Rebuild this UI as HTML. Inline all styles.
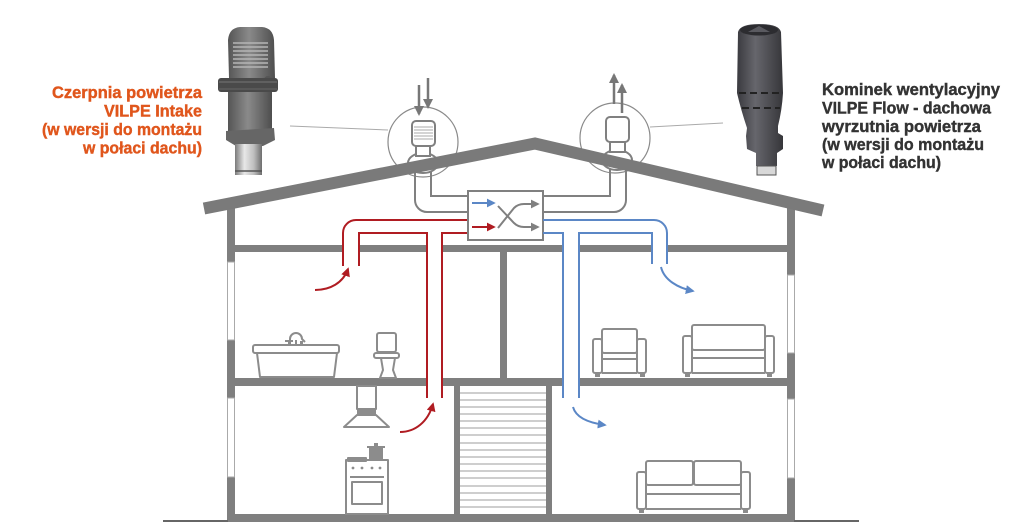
<!DOCTYPE html>
<html><head><meta charset="utf-8"><style>
html,body{margin:0;padding:0;background:#fff;}
svg{display:block;}
</style></head><body>
<svg width="1024" height="531" viewBox="0 0 1024 531" xmlns="http://www.w3.org/2000/svg">
<defs>
<marker id="ar" viewBox="0 0 10 10" refX="8" refY="5" markerWidth="9" markerHeight="9" markerUnits="userSpaceOnUse" orient="auto"><path d="M0,0 L10,5 L0,10 z" fill="#b01c22"/></marker>
<marker id="ab" viewBox="0 0 10 10" refX="8" refY="5" markerWidth="9" markerHeight="9" markerUnits="userSpaceOnUse" orient="auto"><path d="M0,0 L10,5 L0,10 z" fill="#5b87c6"/></marker>
<marker id="ag" viewBox="0 0 10 10" refX="8" refY="5" markerWidth="9" markerHeight="9" markerUnits="userSpaceOnUse" orient="auto"><path d="M0,0 L10,5 L0,10 z" fill="#808080"/></marker>
<marker id="agb" viewBox="0 0 10 10" refX="8" refY="5" markerWidth="10" markerHeight="10" markerUnits="userSpaceOnUse" orient="auto"><path d="M0,0 L10,5 L0,10 z" fill="#777"/></marker>
<linearGradient id="gCap" x1="0" x2="1" y1="0" y2="0"><stop offset="0" stop-color="#555"/><stop offset="0.45" stop-color="#8a8a8a"/><stop offset="1" stop-color="#4e4e4e"/></linearGradient>
<linearGradient id="gPipe" x1="0" x2="1" y1="0" y2="0"><stop offset="0" stop-color="#7a7a7a"/><stop offset="0.35" stop-color="#e8e8e8"/><stop offset="0.7" stop-color="#bdbdbd"/><stop offset="1" stop-color="#6e6e6e"/></linearGradient>
<linearGradient id="gFlow" x1="0" x2="1" y1="0" y2="0"><stop offset="0" stop-color="#3a3a3f"/><stop offset="0.4" stop-color="#66666c"/><stop offset="1" stop-color="#36363a"/></linearGradient>
</defs>

<!-- Left product (Intake) -->
<g>
<path d="M229,78 L228,40 Q229,28 240,27 L262,27 Q273,28 274,40 L275,78 Z" fill="url(#gCap)"/>
<g stroke="#b5b5b5" stroke-width="1.4">
<line x1="233" y1="43" x2="268" y2="43"/><line x1="233" y1="47" x2="268" y2="47"/><line x1="233" y1="51" x2="268" y2="51"/><line x1="233" y1="55" x2="268" y2="55"/><line x1="233" y1="59" x2="268" y2="59"/><line x1="233" y1="63" x2="268" y2="63"/><line x1="233" y1="67" x2="268" y2="67"/>
</g>
<circle cx="268" cy="80" r="4" fill="#555"/>
<rect x="218" y="78" width="60" height="14" rx="3" fill="#4a4a4a"/>
<line x1="219" y1="82" x2="277" y2="82" stroke="#777" stroke-width="1"/>
<line x1="219" y1="89" x2="277" y2="89" stroke="#666" stroke-width="1"/>
<rect x="228" y="92" width="44" height="40" fill="url(#gCap)"/>
<path d="M226,131 L274,128 L275,140 L263,146 L236,146 L226,140 Z" fill="#666"/>
<rect x="235" y="144" width="27" height="31" fill="url(#gPipe)"/>
<line x1="235" y1="171" x2="262" y2="171" stroke="#555" stroke-width="1.5"/>
</g>

<!-- Right product (Flow) -->
<g>
<path d="M738,32 Q740,24 759,24 Q779,24 781,32 L783,93 Q782,110 778,126 L778,133 L783,136 L783,149 L777,153 L777,166 L756,166 L756,153 L747,149 L746,136 L747,128 Q741,110 737,93 Z" fill="url(#gFlow)"/>
<ellipse cx="759" cy="30" rx="19" ry="5.5" fill="#2c2c30"/>
<path d="M748,32 L759,26 L770,32 Z" fill="#5a5a60"/>
<line x1="739" y1="93" x2="782" y2="93" stroke="#222" stroke-width="2" stroke-dasharray="7,4"/>
<line x1="742" y1="108" x2="780" y2="108" stroke="#222" stroke-width="2" stroke-dasharray="7,4"/>
<rect x="757" y="166" width="19" height="9" fill="#d8d8d8" stroke="#555" stroke-width="1"/>
</g>

<!-- texts -->
<g font-family="'Liberation Sans', Arial, sans-serif" font-weight="bold" font-size="16.5" stroke-width="0.4">
<g fill="#e0561c" stroke="#e0561c" text-anchor="end">
<text x="202" y="98" textLength="150" lengthAdjust="spacingAndGlyphs">Czerpnia powietrza</text>
<text x="202" y="116.5" textLength="98" lengthAdjust="spacingAndGlyphs">VILPE Intake</text>
<text x="202" y="135" textLength="160" lengthAdjust="spacingAndGlyphs">(w wersji do montażu</text>
<text x="202" y="153.5" textLength="119" lengthAdjust="spacingAndGlyphs">w połaci dachu)</text>
</g>
<g fill="#333" stroke="#333">
<text x="822" y="95" textLength="178" lengthAdjust="spacingAndGlyphs">Kominek wentylacyjny</text>
<text x="822" y="113.5" textLength="169" lengthAdjust="spacingAndGlyphs">VILPE Flow - dachowa</text>
<text x="822" y="132" textLength="159" lengthAdjust="spacingAndGlyphs">wyrzutnia powietrza</text>
<text x="822" y="150" textLength="162" lengthAdjust="spacingAndGlyphs">(w wersji do montażu</text>
<text x="822" y="168" textLength="119" lengthAdjust="spacingAndGlyphs">w połaci dachu)</text>
</g>
</g>

<!-- leader lines -->
<line x1="290" y1="126" x2="388" y2="130" stroke="#aaa" stroke-width="1"/>
<line x1="650" y1="127" x2="723" y2="123" stroke="#aaa" stroke-width="1"/>

<!-- circles -->
<circle cx="423" cy="142" r="35" fill="none" stroke="#8a8a8a" stroke-width="1.2"/>
<circle cx="615" cy="138" r="35" fill="none" stroke="#8a8a8a" stroke-width="1.2"/>

<!-- gray attic ducts -->
<g fill="none" stroke="#808080" stroke-width="2">
<path d="M415,168 V200 A12,12 0 0 0 427,212 H468"/>
<path d="M431,168 V196 H468"/>
<path d="M610,166 V196 H543"/>
<path d="M626,166 V200 A12,12 0 0 1 614,212 H543"/>
</g>

<!-- fittings -->
<g stroke="#808080" stroke-width="2" fill="#fff">
<ellipse cx="423" cy="163" rx="15" ry="10"/>
<rect x="416" y="145" width="14" height="11"/>
<rect x="412" y="121" width="23" height="25" rx="4"/>
<ellipse cx="617" cy="160" rx="15" ry="10"/>
<rect x="610" y="141" width="15" height="11"/>
<rect x="606" y="117" width="23" height="25" rx="4"/>
</g>
<g stroke="#aaa" stroke-width="1">
<line x1="414" y1="127" x2="433" y2="127"/><line x1="414" y1="130" x2="433" y2="130"/><line x1="414" y1="133" x2="433" y2="133"/><line x1="414" y1="136" x2="433" y2="136"/><line x1="414" y1="139" x2="433" y2="139"/>
</g>

<!-- top arrows -->
<g stroke="#777" stroke-width="2.5">
<line x1="419" y1="85" x2="419" y2="114" marker-end="url(#agb)"/>
<line x1="428" y1="78" x2="428" y2="107" marker-end="url(#agb)"/>
<line x1="614" y1="104" x2="614" y2="75" marker-end="url(#agb)"/>
<line x1="622" y1="113" x2="622" y2="85" marker-end="url(#agb)"/>
</g>

<!-- house structure -->
<g fill="#7f7f7f">
<rect x="227" y="205" width="8" height="317"/>
<rect x="787" y="205" width="8" height="317"/>
<rect x="227" y="245" width="568" height="7"/>
<rect x="227" y="378" width="568" height="8"/>
<rect x="227" y="514" width="568" height="8"/>
<rect x="500" y="252" width="7" height="126"/>
<rect x="454" y="386" width="6" height="128"/>
<rect x="546" y="386" width="6" height="128"/>
</g>
<!-- windows -->
<g fill="#fff" stroke="#aaa" stroke-width="1">
<rect x="227.5" y="262" width="7" height="78"/>
<rect x="227.5" y="398" width="7" height="79"/>
<rect x="787.5" y="275" width="7" height="78"/>
<rect x="787.5" y="399" width="7" height="79"/>
</g>
<!-- ground lines -->
<line x1="163" y1="521" x2="228" y2="521" stroke="#666" stroke-width="2"/>
<line x1="794" y1="521" x2="859" y2="521" stroke="#666" stroke-width="2"/>
<!-- stairs -->
<g stroke="#b0b0b0" stroke-width="1.2">
<line x1="460" y1="393" x2="546" y2="393"/><line x1="460" y1="400" x2="546" y2="400"/><line x1="460" y1="407" x2="546" y2="407"/><line x1="460" y1="414" x2="546" y2="414"/><line x1="460" y1="421" x2="546" y2="421"/><line x1="460" y1="428" x2="546" y2="428"/><line x1="460" y1="435" x2="546" y2="435"/><line x1="460" y1="443" x2="546" y2="443"/><line x1="460" y1="450" x2="546" y2="450"/><line x1="460" y1="457" x2="546" y2="457"/><line x1="460" y1="464" x2="546" y2="464"/><line x1="460" y1="471" x2="546" y2="471"/><line x1="460" y1="478" x2="546" y2="478"/><line x1="460" y1="486" x2="546" y2="486"/><line x1="460" y1="493" x2="546" y2="493"/><line x1="460" y1="500" x2="546" y2="500"/><line x1="460" y1="507" x2="546" y2="507"/>
</g>

<!-- duct interiors (white) -->
<g fill="#fff">
<rect x="344" y="234" width="14" height="32"/>
<rect x="428" y="234" width="13" height="164"/>
<rect x="564" y="234" width="14" height="164"/>
<rect x="653" y="234" width="13" height="30"/>
</g>

<!-- roof -->
<polyline points="204,208.5 535,143.5 823,210.5" fill="none" stroke="#7a7a7a" stroke-width="12" stroke-linejoin="miter"/>

<!-- exchanger box -->
<rect x="468" y="191" width="75" height="49" fill="#fff" stroke="#808080" stroke-width="2"/>
<line x1="472" y1="203" x2="494" y2="203" stroke="#5b87c6" stroke-width="2" marker-end="url(#ab)"/>
<line x1="472" y1="227" x2="494" y2="227" stroke="#b01c22" stroke-width="2" marker-end="url(#ar)"/>
<g fill="none" stroke="#808080" stroke-width="2">
<path d="M498,206 L514,223 Q518,227 524,227 L538,227" marker-end="url(#ag)"/>
<path d="M498,228 L514,208 Q518,204 524,204 L538,204" marker-end="url(#ag)"/>
</g>

<!-- red ducts -->
<g fill="none" stroke="#b01c22" stroke-width="2">
<path d="M467,220 H356 A13,13 0 0 0 343,233 V266"/>
<path d="M359,266 V233 H427 V398"/>
<path d="M442,398 V233 H467"/>
<path d="M315,290 C330,290 343,283 348,269" marker-end="url(#ar)"/>
<path d="M400,432 C415,432 428,422 433,404" marker-end="url(#ar)"/>
</g>

<!-- blue ducts -->
<g fill="none" stroke="#5b87c6" stroke-width="2">
<path d="M543,220 H654 A13,13 0 0 1 667,233 V264"/>
<path d="M563,398 V233 H543"/>
<path d="M579,398 V233 H652 V264"/>
<path d="M661,267 C664,280 678,288 693,291" marker-end="url(#ab)"/>
<path d="M573,407 C576,418 590,423 605,425" marker-end="url(#ab)"/>
</g>

<!-- furniture -->
<g fill="none" stroke="#8c8c8c" stroke-width="2" stroke-linejoin="round">
<rect x="253" y="345" width="86" height="8" rx="2"/>
<path d="M257,353 L260,377 L334,377 L337,353"/>
<path d="M290,345 V339 A6,6 0 0 1 302,339 L305,342"/>
<path d="M296,345 V340 M285,341 H293"/>
<rect x="377" y="333" width="19" height="19" rx="2"/>
<rect x="374" y="353" width="25" height="5" rx="2"/>
<path d="M381,358 L383,370 L380,378 L396,378 L393,370 L395,358"/>
<rect x="357" y="386" width="19" height="23"/>
<path d="M357,415 L344,427 L389,427 L376,415 Z"/>
<rect x="346" y="460" width="42" height="54"/>
<line x1="350" y1="477" x2="384" y2="477"/>
<rect x="352" y="482" width="30" height="22"/>
<rect x="348" y="458" width="18" height="3"/>
<rect x="602" y="329" width="35" height="24" rx="2"/>
<rect x="593" y="339" width="9" height="34" rx="2"/>
<rect x="637" y="339" width="9" height="34" rx="2"/>
<path d="M602,359 H637 M602,373 H637"/>
<rect x="692" y="325" width="73" height="25" rx="2"/>
<rect x="683" y="336" width="9" height="37" rx="2"/>
<rect x="765" y="336" width="9" height="37" rx="2"/>
<path d="M692,358 H765 M692,373 H765"/>
<rect x="646" y="461" width="47" height="24" rx="2"/>
<rect x="694" y="461" width="47" height="24" rx="2"/>
<rect x="637" y="472" width="9" height="37" rx="2"/>
<rect x="741" y="472" width="9" height="37" rx="2"/>
<path d="M646,494 H741 M646,509 H741"/>
</g>
<g fill="#8c8c8c">
<rect x="357" y="409" width="19" height="6"/>
<rect x="369" y="447" width="14" height="13"/>
<rect x="367" y="446" width="18" height="2"/>
<rect x="374" y="443" width="4" height="3"/>
<circle cx="353" cy="468" r="1.4"/><circle cx="362" cy="468" r="1.4"/><circle cx="372" cy="468" r="1.4"/><circle cx="380" cy="468" r="1.4"/>
<rect x="595" y="373" width="5" height="4"/><rect x="640" y="373" width="5" height="4"/>
<rect x="685" y="373" width="5" height="4"/><rect x="767" y="373" width="5" height="4"/>
<rect x="639" y="509" width="5" height="4"/><rect x="743" y="509" width="5" height="4"/>
<rect x="288" y="341" width="3" height="4"/><rect x="300" y="341" width="3" height="4"/>
</g>
</svg>
</body></html>
